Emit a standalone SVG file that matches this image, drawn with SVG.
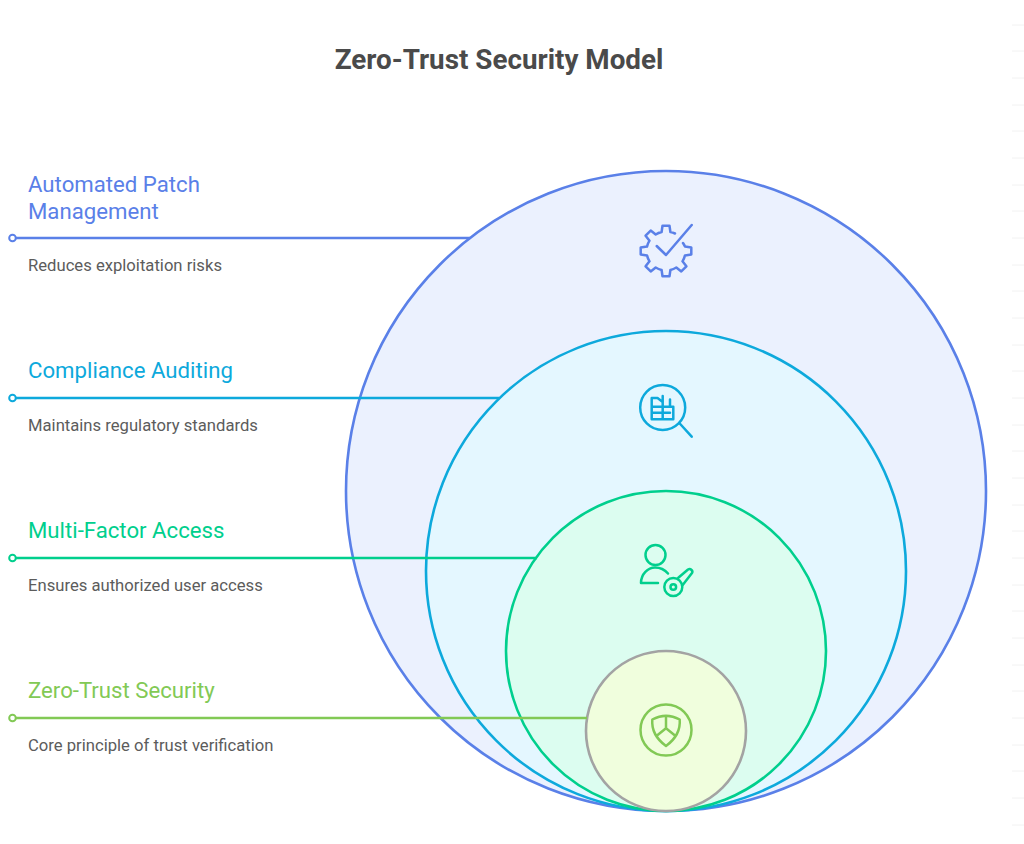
<svg xmlns="http://www.w3.org/2000/svg" width="1024" height="844" viewBox="0 0 1024 844">
<style>
text{font-family:Roboto,"Liberation Sans",sans-serif}
.t{font-size:27.800px;font-weight:700;fill:#4a4a4a;text-anchor:middle}
.h{font-size:22.200px}
.d{font-size:16.650px;fill:#5c5c5c}
.c{stroke-width:2.600}
.l{stroke-width:2.400;fill:none}
.o{fill:#fff;stroke-width:2}
.i{fill:none;stroke-width:2.500;stroke-linecap:round;stroke-linejoin:round}
.a{stroke:#5a80e8}.b{stroke:#0da9dc}.e{stroke:#00cf8d}.f{stroke:#82c955}
.w{stroke:#f2f2f2;stroke-width:1;fill:none}
</style>
<rect width="1024" height="844" fill="#fff"/>
<text class="t" x="499" y="68.500">Zero-Trust Security Model</text>
<g id="marks"><path class="w" d="M1012 25h12M1012 51h12M1012 78h12M1012 105h12M1012 131h12M1012 158h12M1012 185h12M1012 211h12M1012 238h12M1012 265h12M1012 291h12M1012 318h12M1012 345h12M1012 371h12M1012 398h12M1012 425h12M1012 451h12M1012 478h12M1012 505h12M1012 531h12M1012 558h12M1012 585h12M1012 611h12M1012 638h12M1012 665h12M1012 691h12M1012 718h12M1012 745h12M1012 771h12M1012 798h12M1012 825h12"/></g>
<g id="node-patch"><circle class="c a" cx="666" cy="491" r="320" fill="#ebf1fe"/>
<g class="i a"><path d="M691.700 225L666 255L656.700 246"/><path d="M683 243A19.500 19.500 0 0 1 685 246.600L691.300 247.500V254.500L685 255.400A19.500 19.500 0 0 1 682.500 261.300L686.400 266.300L681.300 271.400L676.300 267.500A19.500 19.500 0 0 1 670.400 270L669.500 276.300H662.500L661.600 270A19.500 19.500 0 0 1 655.700 267.500L650.700 271.400L645.600 266.300L649.500 261.300A19.500 19.500 0 0 1 647 255.400L640.700 254.500V247.500L647 246.600A19.500 19.500 0 0 1 649.500 240.700L645.600 235.700L650.700 230.600L655.700 234.500A19.500 19.500 0 0 1 661.600 232L662.500 225.700H669.500L670.400 232A19.500 19.500 0 0 1 675 233.500"/></g>
<text class="h" x="28" y="192.300" fill="#5a80e8">Automated Patch</text><text class="h" x="28" y="219.300" fill="#5a80e8">Management</text>
<text class="d" x="28" y="270.500">Reduces exploitation risks</text></g>
<g id="node-audit"><circle class="c b" cx="666" cy="571" r="240" fill="#e4f7ff"/>
<g class="i b"><circle cx="662.700" cy="407.500" r="22.500"/><path d="M679.300 423L691.700 436.700"/><path d="M662.700 396V419.300M662.700 402L657.500 398H651.700V419.300H673.300V406.700H662.700M670 399.500V406.700M651.700 406.700H662.700M651.700 412.700H662.700M662.700 412.700H670"/></g>
<text class="h" x="28" y="378.300" fill="#0da9dc">Compliance Auditing</text>
<text class="d" x="28" y="430.500">Maintains regulatory standards</text></g>
<g id="node-mfa"><circle class="c e" cx="666" cy="651" r="160" fill="#dcfdf0"/>
<g class="i e"><circle cx="655.500" cy="555" r="10"/><path d="M641 583C641 574 648 567.500 655 567.500C660 567.500 665 570 668 573.500M641 583H658"/><circle cx="673.300" cy="587" r="9"/><circle cx="673.300" cy="587" r="2.800"/><path d="M678.300 577.700L688 569.500Q690 568.500 691.500 570Q693 571.500 692 573L682.700 585"/></g>
<text class="h" x="28" y="538.300" fill="#00cf8d">Multi-Factor Access</text>
<text class="d" x="28" y="590.500">Ensures authorized user access</text></g>
<g id="node-core"><circle class="c" cx="666" cy="731" r="80" fill="#f0fedd" stroke="#a3a3a3"/>
<g class="i f"><circle cx="666" cy="730" r="25.500"/><path d="M652.300 719.500Q666 712 679.700 719.500Q681 735 666 746Q651 735 652.300 719.500ZM666 716V728.300M666 728.300L656.700 735.700M666 728.300L675.300 735.700"/></g>
<text class="h" x="28" y="698.300" fill="#82c955">Zero-Trust Security</text>
<text class="d" x="28" y="750.500">Core principle of trust verification</text></g>
<g id="connectors">
<path class="l a" d="M16 238H470"/><circle class="o a" cx="12.500" cy="238" r="3.300"/>
<path class="l b" d="M16 398H499"/><circle class="o b" cx="12.500" cy="398" r="3.300"/>
<path class="l e" d="M16 558H537"/><circle class="o e" cx="12.500" cy="558" r="3.300"/>
<path class="l f" d="M16 718H587"/><circle class="o f" cx="12.500" cy="718" r="3.300"/>
</g>
</svg>
